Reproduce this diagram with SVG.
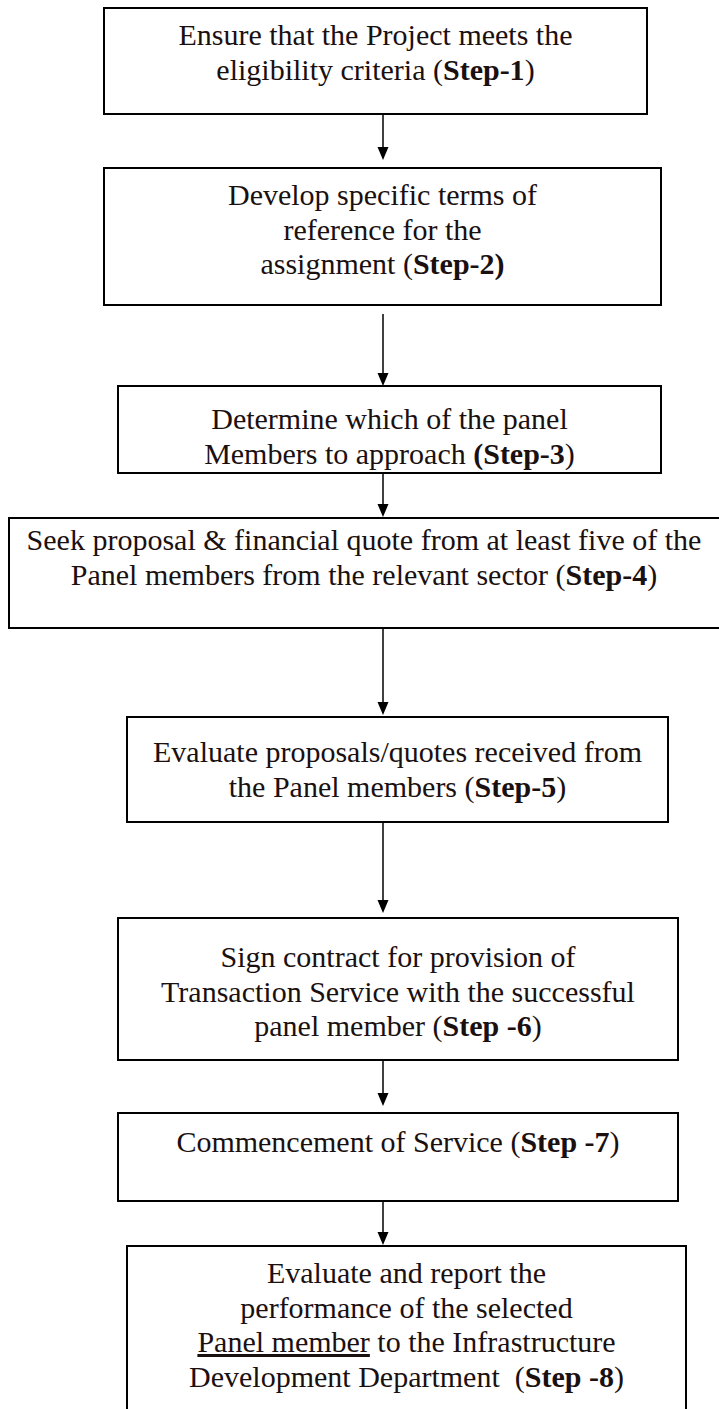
<svg xmlns="http://www.w3.org/2000/svg" width="719" height="1409" viewBox="0 0 719 1409">
<style>
.box{fill:#fff;stroke:#000;stroke-width:2}
.t{font-family:"Liberation Serif","Times New Roman",serif;font-size:30px;fill:#1b1010;text-anchor:middle}
.b{font-weight:bold}
.u{text-decoration:underline}
.c{stroke:#000;stroke-width:1.5;fill:none}
.h{fill:#000}
</style>
<rect width="719" height="1409" fill="#fff"/>
<g id="connectors">
<line class="c" x1="383" y1="114" x2="383" y2="147"/><path class="h" d="M377.5,147 L388.5,147 L383,160 Z"/>
<line class="c" x1="383" y1="314" x2="383" y2="373"/><path class="h" d="M377.5,373 L388.5,373 L383,386 Z"/>
<line class="c" x1="383" y1="473" x2="383" y2="504"/><path class="h" d="M377.5,504 L388.5,504 L383,517 Z"/>
<line class="c" x1="383" y1="628" x2="383" y2="702"/><path class="h" d="M377.5,702 L388.5,702 L383,715 Z"/>
<line class="c" x1="383" y1="822" x2="383" y2="900"/><path class="h" d="M377.5,900 L388.5,900 L383,913 Z"/>
<line class="c" x1="383" y1="1060" x2="383" y2="1093"/><path class="h" d="M377.5,1093 L388.5,1093 L383,1106 Z"/>
<line class="c" x1="383" y1="1201" x2="383" y2="1232"/><path class="h" d="M377.5,1232 L388.5,1232 L383,1245 Z"/>
</g>
<g id="step1">
<rect class="box" x="104" y="8" width="543" height="106"/>
<text class="t" x="375.5" y="45">Ensure that the Project meets the</text>
<text class="t" x="375.5" y="79.5">eligibility criteria (<tspan class="b">Step-1</tspan>)</text>
</g>
<g id="step2">
<rect class="box" x="104" y="168" width="557" height="137"/>
<text class="t" x="382.5" y="205">Develop specific terms of</text>
<text class="t" x="382.5" y="239.5">reference for the</text>
<text class="t" x="382.5" y="274">assignment (<tspan class="b">Step-2)</tspan></text>
</g>
<g id="step3">
<rect class="box" x="118" y="386" width="543" height="87"/>
<text class="t" x="389.5" y="429">Determine which of the panel</text>
<text class="t" x="389.5" y="463.5">Members to approach <tspan class="b">(Step-3</tspan>)</text>
</g>
<g id="step4">
<rect class="box" x="9" y="518" width="713" height="110"/>
<text class="t" x="364" y="550">Seek proposal &amp; financial quote from at least five of the</text>
<text class="t" x="364" y="584.5">Panel members from the relevant sector (<tspan class="b">Step-4</tspan>)</text>
</g>
<g id="step5">
<rect class="box" x="127" y="717" width="541" height="105"/>
<text class="t" x="397.5" y="762">Evaluate proposals/quotes received from</text>
<text class="t" x="397.5" y="796.5">the Panel members (<tspan class="b">Step-5</tspan>)</text>
</g>
<g id="step6">
<rect class="box" x="118" y="918" width="560" height="142"/>
<text class="t" x="398" y="967">Sign contract for provision of</text>
<text class="t" x="398" y="1001.5">Transaction Service with the successful</text>
<text class="t" x="398" y="1036">panel member (<tspan class="b">Step -6</tspan>)</text>
</g>
<g id="step7">
<rect class="box" x="118" y="1113" width="560" height="88"/>
<text class="t" x="398" y="1152">Commencement of Service (<tspan class="b">Step -7</tspan>)</text>
</g>
<g id="step8">
<rect class="box" x="127" y="1246" width="559" height="170"/>
<text class="t" x="406.5" y="1283">Evaluate and report the</text>
<text class="t" x="406.5" y="1317.5">performance of the selected</text>
<text class="t" x="406.5" y="1352"><tspan class="u">Panel member</tspan> to the Infrastructure</text>
<text class="t" x="406.5" y="1386.5">Development Department&#160; (<tspan class="b">Step -8</tspan>)</text>
</g>
</svg>
